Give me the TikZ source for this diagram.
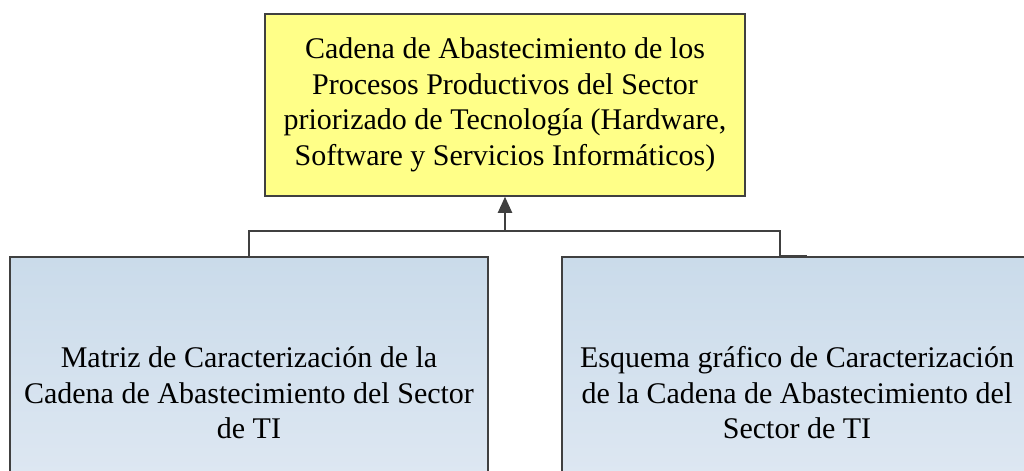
\documentclass[tikz,border=0pt]{standalone}
\usepackage{fontspec}
\setmainfont{Liberation Serif}
\usetikzlibrary{arrows.meta}
\definecolor{boxline}{RGB}{64,64,64}
\definecolor{topfill}{RGB}{255,255,136}
\definecolor{blueup}{RGB}{202,219,234}
\definecolor{bluedown}{RGB}{226,234,244}

\begin{document}
\begin{tikzpicture}[x=0.5pt,y=-0.5pt,
		box/.style={draw=boxline, line width=0.75pt, inner sep=0pt, align=center,
			font=\fontsize{15}{17.75}\selectfont},
		goalbox/.style={box, fill=topfill, minimum width=240pt, minimum height=91pt},
		partbox/.style={box, top color=blueup, bottom color=bluedown, minimum height=136pt},
		link/.style={draw=boxline, line width=1pt}]
		\useasboundingbox (0,0) rectangle (1024,471);
		\clip (0,0) rectangle (1024,471);

		\draw (505,105) node[goalbox] (cadena) {Cadena de Abastecimiento de los\\Procesos Productivos del Sector\\priorizado de Tecnología (Hardware,\\Software y Servicios Informáticos)};

		\draw (249,393) node[partbox, minimum width=239pt] (matriz) {Matriz de Caracterización de la\\Cadena de Abastecimiento del Sector\\de TI};
		\draw (797,393) node[partbox, minimum width=235pt] (esquema) {Esquema gráfico de Caracterización\\de la Cadena de Abastecimiento del\\Sector de TI};

		\coordinate (junc) at (505,231);

		\draw [link] (matriz.north) |- (junc);
		\draw [link] ([xshift=5pt]esquema.north) -- ([xshift=-8.5pt]esquema.north) |- (junc);
		\draw [link, -{Triangle[length=8pt, width=7pt]}] (junc) -- (cadena.south);
	\end{tikzpicture}
\end{document}
